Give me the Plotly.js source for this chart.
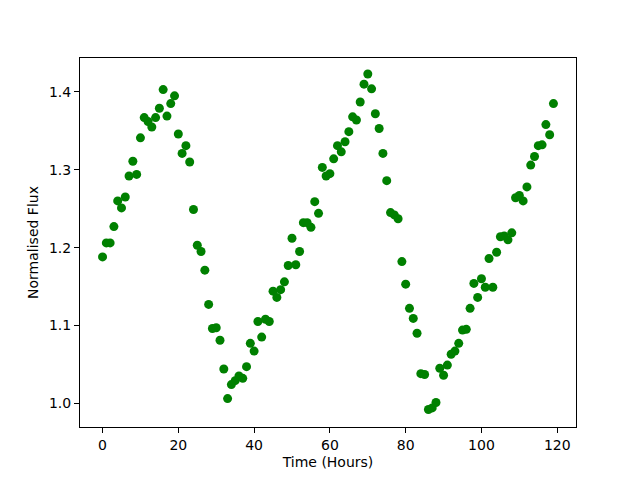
<!DOCTYPE html>
<html>
<head>
<meta charset="utf-8">
<script src="https://cdn.plot.ly/plotly-3.0.1.min.js"></script>
<style>html,body{margin:0;padding:0;background:#fff;}#chart{width:640px;height:480px;}</style>
</head>
<body>
<div id="chart"></div>
<script>
const hours = Array.from({length: 120}, (_, i) => i);
const flux = [
1.188,1.206,1.206,1.227,1.260,1.251,1.265,1.292,1.311,1.294,
1.341,1.367,1.362,1.355,1.367,1.379,1.403,1.369,1.385,1.395,
1.346,1.321,1.331,1.310,1.249,1.203,1.195,1.171,1.127,1.096,
1.097,1.081,1.044,1.006,1.024,1.029,1.035,1.032,1.047,1.077,
1.067,1.105,1.085,1.108,1.105,1.144,1.136,1.146,1.156,1.177,
1.212,1.178,1.195,1.232,1.232,1.226,1.259,1.244,1.303,1.292,
1.295,1.314,1.331,1.323,1.336,1.349,1.368,1.364,1.387,1.410,
1.423,1.404,1.372,1.353,1.321,1.286,1.245,1.242,1.237,1.182,
1.153,1.122,1.109,1.090,1.038,1.037,0.992,0.994,1.001,1.045,
1.036,1.049,1.063,1.067,1.077,1.094,1.095,1.122,1.154,1.136,
1.160,1.149,1.186,1.149,1.194,1.214,1.215,1.210,1.219,1.264,
1.267,1.260,1.278,1.306,1.317,1.331,1.332,1.358,1.345,1.385
];
const xTicks = [0, 20, 40, 60, 80, 100, 120];
const yTicks = [1.0, 1.1, 1.2, 1.3, 1.4];
const xTitle = "Time (Hours)";
const yTitle = "Normalised Flux";

const trace = {
  x: hours, y: flux, type: 'scatter', mode: 'markers',
  marker: {color: '#008000', size: 9}
};
const axisCommon = {
  showline: true, linecolor: '#000', linewidth: 1, mirror: true,
  ticks: 'outside', ticklen: 5, tickwidth: 1, tickcolor: '#000',
  showgrid: false, zeroline: false,
  tickfont: {family: 'DejaVu Sans', size: 14, color: '#000'}
};
const layout = {
  width: 640, height: 480,
  margin: {l: 80, r: 64, t: 58, b: 53},
  paper_bgcolor: '#fff', plot_bgcolor: '#fff',
  showlegend: false,
  font: {family: 'DejaVu Sans', color: '#000'},
  xaxis: Object.assign({}, axisCommon, {
    range: [-5.95, 124.95], tickvals: xTicks, ticktext: xTicks.map(String),
    title: {text: xTitle, font: {family: 'DejaVu Sans', size: 14, color: '#000'}, standoff: 5}
  }),
  yaxis: Object.assign({}, axisCommon, {
    range: [0.9695, 1.4436], tickvals: yTicks, ticktext: yTicks.map(v => v.toFixed(1)),
    title: {text: yTitle, font: {family: 'DejaVu Sans', size: 14, color: '#000'}, standoff: 7}
  })
};
Plotly.newPlot('chart', [trace], layout, {displayModeBar: false, staticPlot: true});
</script>
</body>
</html>
